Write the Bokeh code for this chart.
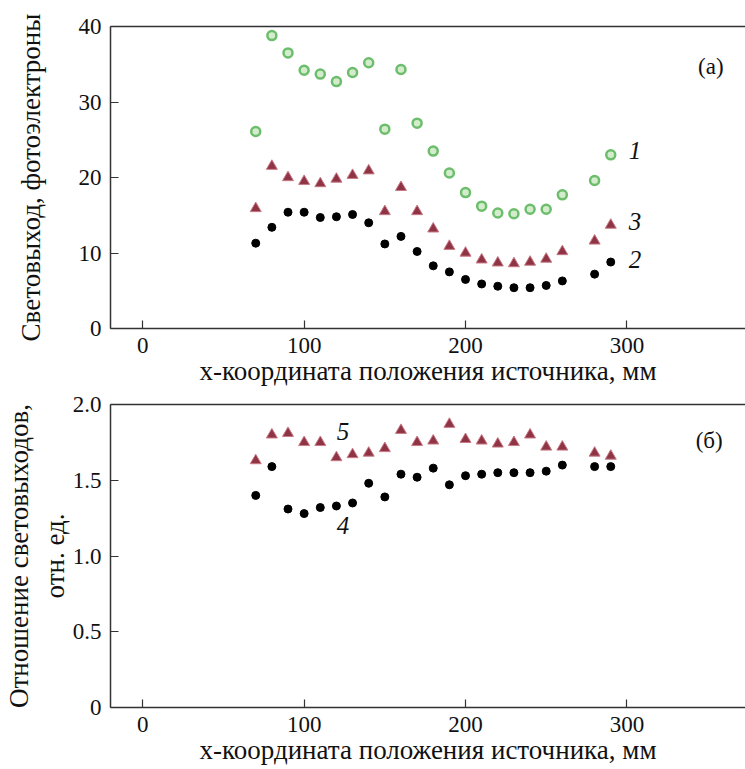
from bokeh.plotting import figure
from bokeh.layouts import column
from bokeh.models import Range1d, LinearAxis, FixedTicker, Label, ColumnDataSource
from bokeh.embed import file_html
from bokeh.resources import INLINE

# source x-coordinate, mm
x_pos = [70, 80, 90, 100, 110, 120, 130, 140, 150, 160, 170,
         180, 190, 200, 210, 220, 230, 240, 250, 260, 280, 290]

# (a) light yield, photoelectrons
curve1 = [26.1, 38.8, 36.5, 34.2, 33.7, 32.7, 33.9, 35.2, 26.4, 34.3, 27.2,
          23.5, 20.6, 18.0, 16.2, 15.3, 15.2, 15.8, 15.8, 17.7, 19.6, 23.0]
curve2 = [11.3, 13.4, 15.4, 15.4, 14.7, 14.8, 15.1, 14.0, 11.2, 12.2, 10.2,
          8.3, 7.5, 6.5, 5.9, 5.6, 5.4, 5.4, 5.7, 6.3, 7.2, 8.8]
curve3 = [15.9, 21.5, 20.0, 19.5, 19.2, 19.8, 20.3, 20.9, 15.5, 18.7, 15.5,
          13.2, 10.9, 10.0, 9.1, 8.7, 8.6, 8.8, 9.2, 10.2, 11.6, 13.7]

# (б) light yield ratio, rel. units
ratio4 = [1.40, 1.59, 1.31, 1.28, 1.32, 1.33, 1.35, 1.48, 1.39, 1.54, 1.52,
          1.58, 1.47, 1.53, 1.54, 1.55, 1.55, 1.55, 1.56, 1.60, 1.59, 1.59]
ratio5 = [1.63, 1.80, 1.81, 1.75, 1.75, 1.65, 1.67, 1.68, 1.71, 1.83, 1.75,
          1.76, 1.87, 1.77, 1.76, 1.74, 1.75, 1.80, 1.72, 1.72, 1.68, 1.66]

x_ticks = [0, 100, 200, 300]
y_ticks_a = [0, 10, 20, 30, 40]
y_ticks_b = [0, 0.5, 1.0, 1.5, 2.0]
y_labels_b = ["0", "0.5", "1.0", "1.5", "2.0"]

x_title = "x-координата положения источника, мм"
y_title_a = "Световыход, фотоэлектроны"
y_title_b = ["Отношение световыходов,", "отн. ед."]

FONT = "Liberation Serif"
TICK_SIZE = "23px"
LABEL_SIZE = "27px"
AXIS_COLOR = "#333333"
TEXT_COLOR = "#111111"

src = ColumnDataSource(dict(x=x_pos, c1=curve1, c2=curve2, c3=curve3, r4=ratio4, r5=ratio5))


def title_axis(text, standoff):
    """Axis used only to carry a title line on the left."""
    return LinearAxis(ticker=FixedTicker(ticks=[]), axis_line_color=None,
                      major_tick_line_color=None, minor_tick_line_color=None,
                      major_tick_in=0, major_tick_out=0, minor_tick_in=0, minor_tick_out=0,
                      major_label_text_font_size="0px", major_label_standoff=0,
                      axis_label=text, axis_label_standoff=standoff,
                      axis_label_text_font=FONT, axis_label_text_font_size=LABEL_SIZE,
                      axis_label_text_font_style="normal", axis_label_text_color=TEXT_COLOR)


def style(p, yticks, ylabel=None, overrides=None):
    p.outline_line_color = None
    p.grid.grid_line_color = None
    for ax in [p.xaxis[0], p.yaxis[0]]:
        ax.axis_line_color = AXIS_COLOR
        ax.axis_line_width = 1.5
        ax.major_tick_line_color = AXIS_COLOR
        ax.major_tick_line_width = 1.2
        ax.major_tick_in = 8
        ax.major_tick_out = 0
        ax.minor_tick_line_color = None
        ax.major_label_text_font = FONT
        ax.major_label_text_font_size = TICK_SIZE
        ax.major_label_text_color = TEXT_COLOR
        ax.axis_label_text_font = FONT
        ax.axis_label_text_font_size = LABEL_SIZE
        ax.axis_label_text_font_style = "normal"
        ax.axis_label_text_color = TEXT_COLOR
    p.xaxis[0].ticker = FixedTicker(ticks=x_ticks)
    p.xaxis[0].axis_label = x_title
    p.xaxis[0].major_label_standoff = 9
    p.xaxis[0].axis_label_standoff = 0
    p.yaxis[0].ticker = FixedTicker(ticks=yticks)
    if ylabel:
        p.yaxis[0].axis_label = ylabel
    p.yaxis[0].major_label_standoff = 9
    p.yaxis[0].axis_label_standoff = 30
    if overrides:
        p.yaxis[0].major_label_overrides = overrides
    top = LinearAxis(ticker=FixedTicker(ticks=[]), axis_line_color=AXIS_COLOR,
                     axis_line_width=1.5, major_tick_line_color=None,
                     minor_tick_line_color=None, major_tick_out=0, major_tick_in=0,
                     major_label_text_font_size="0px", major_label_standoff=0)
    p.add_layout(top, "above")


W = 745
XR = (-20, 373.5)
pa = figure(width=W, height=390, x_range=Range1d(*XR), y_range=Range1d(0, 40),
            output_backend="svg", toolbar_location=None,
            min_border_left=106, min_border_right=0, min_border_top=26, min_border_bottom=62)
style(pa, y_ticks_a, y_title_a)

pa.scatter("x", "c1", source=src, marker="circle", size=9, fill_color="#d3edcc",
           line_color="#6cbd6c", line_width=2.5)
pa.scatter("x", "c3", source=src, marker="triangle", size=11, fill_color="#8e3444",
           line_color="#c97a86", line_width=1)
pa.scatter("x", "c2", source=src, marker="circle", size=8, fill_color="black",
           line_color="black", line_width=1)

lbl_kw = dict(text_font=FONT, text_align="center", text_baseline="middle", text_color=TEXT_COLOR)
pa.add_layout(Label(x=305, y=23.6, text="1", text_font_size="25px", text_font_style="italic", **lbl_kw))
pa.add_layout(Label(x=305, y=14.2, text="3", text_font_size="25px", text_font_style="italic", **lbl_kw))
pa.add_layout(Label(x=305, y=9.1, text="2", text_font_size="25px", text_font_style="italic", **lbl_kw))
pa.add_layout(Label(x=352, y=34.7, text="(a)", text_font_size="23px", **lbl_kw))

pb = figure(width=W, height=379, x_range=Range1d(*XR), y_range=Range1d(0, 2.0),
            output_backend="svg", toolbar_location=None,
            min_border_left=106, min_border_right=0, min_border_top=14, min_border_bottom=62)
style(pb, y_ticks_b, None, overrides={t: s for t, s in zip(y_ticks_b, y_labels_b)})
pb.add_layout(title_axis(y_title_b[1], 0), "left")
pb.add_layout(title_axis(y_title_b[0], 3), "left")

pb.scatter("x", "r5", source=src, marker="triangle", size=11, fill_color="#8e3444",
           line_color="#c97a86", line_width=1)
pb.scatter("x", "r4", source=src, marker="circle", size=8, fill_color="black",
           line_color="black", line_width=1)
pb.add_layout(Label(x=124, y=1.82, text="5", text_font_size="25px", text_font_style="italic", **lbl_kw))
pb.add_layout(Label(x=124, y=1.20, text="4", text_font_size="25px", text_font_style="italic", **lbl_kw))
pb.add_layout(Label(x=351, y=1.76, text="(б)", text_font_size="23px", **lbl_kw))

layout = column(pa, pb, spacing=0)
open("out.html", "w").write(file_html(layout, INLINE))
